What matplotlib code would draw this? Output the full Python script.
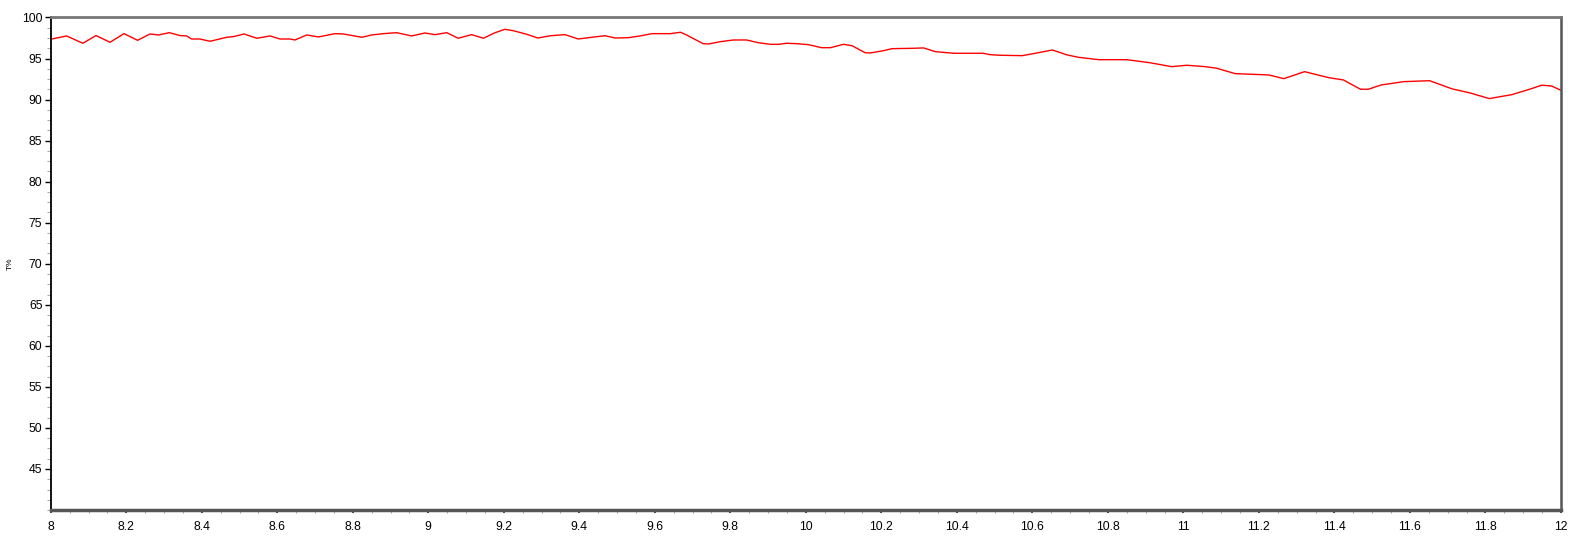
import matplotlib
matplotlib.use("Agg")
import matplotlib.pyplot as plt
from matplotlib.ticker import AutoMinorLocator, FixedLocator, FuncFormatter

wavelength = [
    8.003, 8.042, 8.085, 8.12, 8.157, 8.194, 8.23, 8.263, 8.285, 8.314,
    8.342, 8.36, 8.373, 8.395, 8.422, 8.466, 8.484, 8.512, 8.546, 8.581,
    8.607, 8.634, 8.647, 8.678, 8.709, 8.753, 8.775, 8.824, 8.85, 8.881,
    8.916, 8.956, 8.991, 9.018, 9.049, 9.079, 9.115, 9.146, 9.177, 9.203,
    9.225, 9.261, 9.29, 9.324, 9.362, 9.397, 9.424, 9.468, 9.495, 9.53,
    9.561, 9.592, 9.641, 9.668, 9.684, 9.728, 9.742, 9.773, 9.808, 9.843,
    9.874, 9.906, 9.928, 9.95, 9.976, 10.007, 10.042, 10.065, 10.1, 10.122,
    10.157, 10.171, 10.206, 10.228, 10.285, 10.312, 10.343, 10.392, 10.47, 10.488,
    10.514, 10.573, 10.608, 10.653, 10.692, 10.722, 10.776, 10.85, 10.91, 10.969,
    11.009, 11.058, 11.088, 11.137, 11.226, 11.266, 11.321, 11.385, 11.424, 11.469,
    11.49, 11.524, 11.583, 11.652, 11.712, 11.76, 11.81, 11.87, 11.92, 11.949,
    11.975, 11.998,
]
transmittance = [
    97.38, 97.75, 96.86, 97.8, 96.98, 98.03, 97.22, 97.99, 97.87, 98.15,
    97.8, 97.75, 97.38, 97.38, 97.1, 97.59, 97.67, 97.99, 97.47, 97.75,
    97.38, 97.38, 97.26, 97.87, 97.63, 98.03, 97.99, 97.59, 97.87, 98.03,
    98.15, 97.75, 98.11, 97.91, 98.15, 97.47, 97.91, 97.47, 98.15, 98.56,
    98.39, 97.95, 97.5, 97.78, 97.91, 97.38, 97.54, 97.78, 97.5, 97.54,
    97.75, 98.03, 98.03, 98.2, 97.87, 96.81, 96.77, 97.05, 97.26, 97.26,
    96.93, 96.73, 96.73, 96.86, 96.81, 96.69, 96.32, 96.32, 96.73, 96.57,
    95.71, 95.68, 95.96, 96.2, 96.25, 96.29, 95.84, 95.64, 95.64, 95.47,
    95.4, 95.35, 95.64, 96.04, 95.44, 95.15, 94.86, 94.86, 94.5, 94.01,
    94.18, 94.01, 93.82, 93.16, 93.0, 92.55, 93.4, 92.67, 92.39, 91.26,
    91.26, 91.78, 92.18, 92.3, 91.3, 90.8, 90.12, 90.6, 91.3, 91.75,
    91.66, 91.17,
]
x_ticks = [8.0, 8.2, 8.4, 8.6, 8.8, 9.0, 9.2, 9.4, 9.6, 9.8, 10.0,
           10.2, 10.4, 10.6, 10.8, 11.0, 11.2, 11.4, 11.6, 11.8, 12.0]
y_ticks = [45, 50, 55, 60, 65, 70, 75, 80, 85, 90, 95, 100]
x_label = "μm"
y_label = "T%"

plt.rcParams['font.family'] = ['Liberation Sans', 'DejaVu Sans']

fig = plt.figure(figsize=(15.86, 5.38), dpi=100)
ax = fig.add_axes([0.032, 0.052, 0.9522, 0.9155])
ax.plot(wavelength, transmittance, color="#ff0000", lw=1.0)

ax.set_xlim(8, 12)
ax.set_ylim(40, 100)
ax.xaxis.set_major_locator(FixedLocator(x_ticks))
ax.yaxis.set_major_locator(FixedLocator(y_ticks))
ax.xaxis.set_major_formatter(FuncFormatter(lambda v, p: f"{v:g}"))
ax.yaxis.set_major_formatter(FuncFormatter(lambda v, p: f"{v:g}"))
ax.xaxis.set_minor_locator(AutoMinorLocator(4))
ax.yaxis.set_minor_locator(AutoMinorLocator(4))

ax.tick_params(axis="y", which="major", direction="out", length=4, width=1,
               color="black", labelsize=8.8, pad=2)
ax.tick_params(axis="y", which="minor", direction="out", length=3, width=0.8,
               color="#aaaaaa")
ax.tick_params(axis="x", which="major", direction="out", length=2, width=1.2,
               color="#222222", labelsize=8.8, pad=6)
ax.tick_params(axis="x", which="minor", direction="out", length=2, width=0.8,
               color="#aaaaaa")

ax.spines["left"].set_color("black")
ax.spines["left"].set_linewidth(1.3)
ax.spines["bottom"].set_color("#555555")
ax.spines["bottom"].set_linewidth(2.5)
ax.spines["top"].set_color("#777777")
ax.spines["top"].set_linewidth(2)
ax.spines["right"].set_color("#555555")
ax.spines["right"].set_linewidth(1.8)

ax.set_ylabel(y_label, fontsize=6)
ax.yaxis.set_label_coords(-0.0245, 0.5)
ax.set_xlabel(x_label, fontsize=6, labelpad=4)

fig.savefig("out.png", dpi=100)
